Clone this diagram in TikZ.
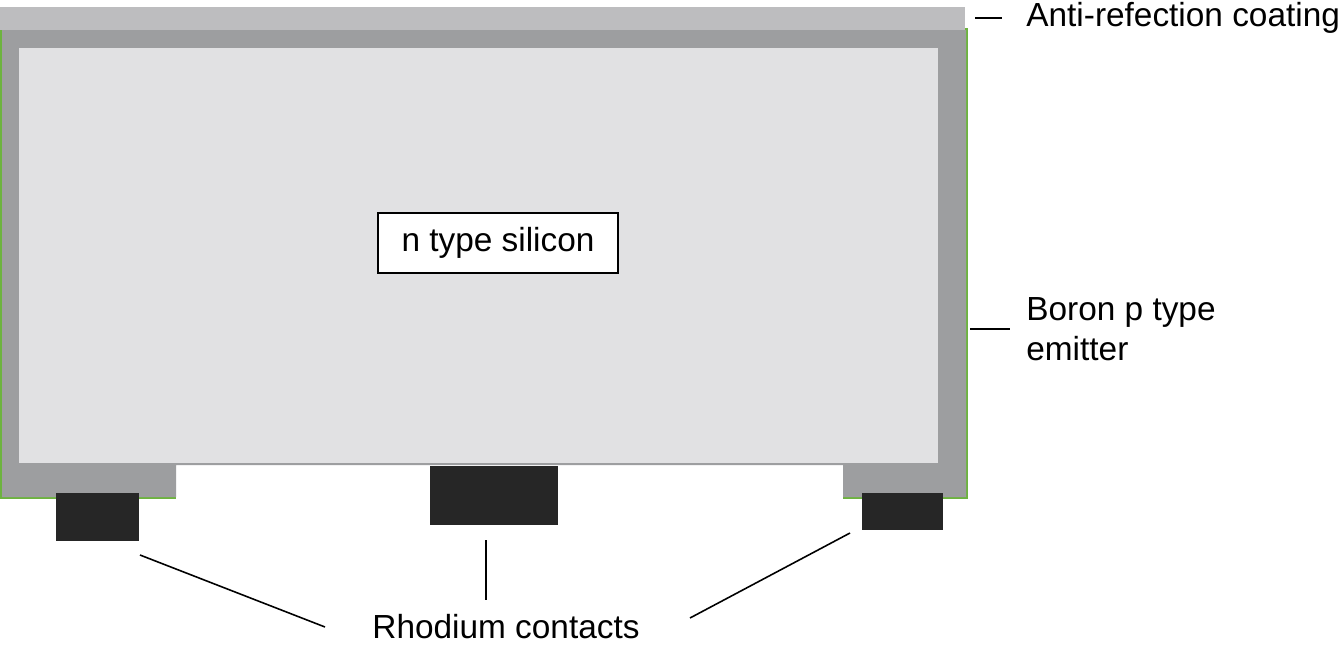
\documentclass[tikz,border=0pt]{standalone}
\usepackage{fontspec}
\setmainfont{Liberation Sans}
\definecolor{arcgray}{HTML}{BDBDBF}
\definecolor{emitgray}{HTML}{9D9EA0}
\definecolor{sigray}{HTML}{E1E1E3}
\definecolor{emitgreen}{HTML}{6DB33F}
\begin{document}
\begin{tikzpicture}[
        x=0.02cm, y=-0.02cm,
        lbl/.style={font=\fontsize{19}{23}\selectfont, inner sep=0pt},
        contact/.style={fill=black!85, draw=none},
        leader/.style={line width=0.9pt}
    ]
    \useasboundingbox (0,0) rectangle (1338,646);

    % --- Layers ---
    \fill[emitgreen] (0,28) rectangle (968,499);
    \fill[white] (176,465) rectangle (843,500);
    \fill[emitgray] (2,30) -- (966,30) -- (966,497) -- (843,497) -- (843,465)
        -- (176,465) -- (176,497) -- (2,497) -- cycle;
    \fill[arcgray] (0,7) rectangle (965,30);
    \fill[sigray] (19,48) rectangle (938,463);

    % --- Contacts ---
    \fill[contact] (56,493) rectangle (139,541);
    \fill[contact] (430,466) rectangle (558,525);
    \fill[contact] (862,493) rectangle (943,530);

    % --- Labels ---
    \node[lbl, draw, line width=1pt, fill=white, minimum width=240*0.02cm,
          minimum height=60*0.02cm] (si) at (498,243) {n type silicon};
    \node[lbl, anchor=west] (arc) at (1026,18) {Anti-refection coating};
    \node[lbl, anchor=west, align=left] (bor) at (1026,329) {Boron p type\\emitter};
    \node[lbl] (rho) at (506,627) {Rhodium contacts};

    % --- Leaders ---
    \coordinate (arcend) at (975,18);
    \coordinate (borend) at (970,329);
    \coordinate (c1) at (140,555);
    \coordinate (c2) at (486,540);
    \coordinate (c3) at (850,533);
    \draw[leader] (arcend) -- ++(27,0);
    \draw[leader] (borend) -- ++(40,0);
    \draw[leader] (c1) -- (325,627);
    \draw[leader] (c2) -- (486,600);
    \draw[leader] (c3) -- (690,618);
\end{tikzpicture}
\end{document}
